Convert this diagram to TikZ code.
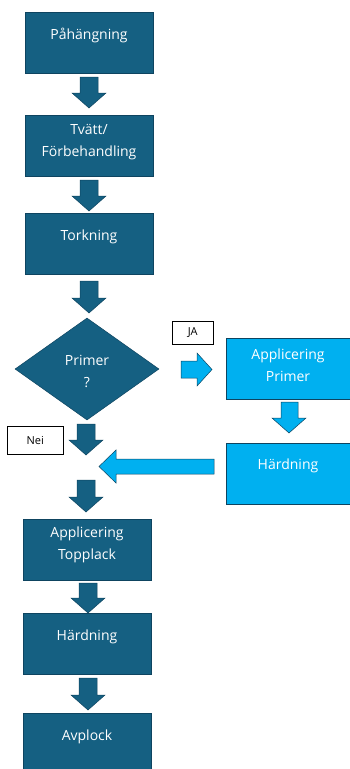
\documentclass[tikz,border=0pt]{standalone}
\usepackage{fontspec}
\setmainfont{Open Sans}
\usetikzlibrary{shapes.geometric}
\definecolor{darkb}{HTML}{156082}
\definecolor{darkedge}{HTML}{0E4460}
\definecolor{lightb}{HTML}{00B0F0}
\newcommand\blockdown[5]{% x center, y top, y tip, color, name
  \fill[#4,draw=darkedge,line width=0.5pt] (#1-9,#2) -- (#1+9,#2) -- (#1+9,#3-15) -- (#1+17,#3-15) -- (#1,#3) -- (#1-17,#3-15) -- (#1-9,#3-15) -- cycle;
  \coordinate (#5) at (#1,#3);}
\begin{document}
\begin{tikzpicture}[x=1pt,y=-1pt,
  box/.style={draw=darkedge,line width=0.6pt,fill=darkb,minimum width=128pt,minimum height=61pt,inner sep=0pt},
  lbox/.style={draw=darkedge,line width=0.6pt,fill=lightb,minimum width=124pt,minimum height=61pt,inner sep=0pt},
  txt/.style={text=white,font=\fontsize{14}{22}\selectfont,align=center,inner sep=0pt},
  tag/.style={draw=black,line width=0.5pt,fill=white,font=\fontsize{11}{13}\selectfont,inner sep=0pt}]
\useasboundingbox (0,0) rectangle (350,769);
% main column boxes
\node[box,anchor=north west] (b1) at (25,12) {};
\node[txt] (t1) at (89,35) {Påhängning};
\node[box,anchor=north west] (b2) at (25,115) {};
\node[txt] (t2) at (89,142) {Tvätt/\\Förbehandling};
\node[box,anchor=north west] (b3) at (25,213) {};
\node[txt] (t3) at (89,237) {Torkning};
% diamond
\node[draw=darkedge,line width=0.5pt,fill=darkb,diamond,minimum width=144pt,minimum height=102pt,inner sep=0pt] (d) at (87,369) {};
\node[txt] (td) at (87,371) {Primer\\?};
% arrows main
\blockdown{89}{77}{108}{darkb}{a1}
\blockdown{89}{180}{211}{darkb}{a2}
\blockdown{89}{281}{313}{darkb}{a3}
\blockdown{86}{424}{455}{darkb}{a4}
\blockdown{86}{480}{512}{darkb}{a5}
\blockdown{88}{583}{613}{darkb}{a6}
\blockdown{88}{678}{710}{darkb}{a7}
% lower boxes
\node[box,anchor=north west] (b4) at (23,519) {};
\node[txt] (t4) at (87,545) {Applicering\\Topplack};
\node[box,anchor=north west] (b5) at (23,613) {};
\node[txt] (t5) at (87,637) {Härdning};
\node[box,anchor=north west] (b6) at (23,713) {};
\node[txt] (t6) at (87,737) {Avplock};
% right branch
\node[lbox,anchor=north west] (r1) at (226,338) {};
\node[txt] (tr1) at (288,365) {Applicering\\Primer};
\node[lbox,anchor=north west] (r2) at (226,443) {};
\node[txt] (tr2) at (288,466) {Härdning};
% JA arrow right
\fill[lightb,draw=darkedge,line width=0.5pt] (181,361) -- (197,361) -- (197,353) -- (212,369.5) -- (197,386) -- (197,378) -- (181,378) -- cycle;
% light down arrow
\fill[lightb,draw=darkedge,line width=0.5pt] (281,402) -- (298,402) -- (298,418) -- (306,418) -- (289,433) -- (272,418) -- (281,418) -- cycle;
% left arrow
\fill[lightb,draw=darkedge,line width=0.5pt] (214,459) -- (116,459) -- (116,450) -- (99,466.5) -- (116,483) -- (116,474) -- (214,474) -- cycle;
% tags
\node[tag,minimum width=41pt,minimum height=23pt,anchor=north west] (ja) at (172,321) {JA};
\node[tag,minimum width=56pt,minimum height=28pt,anchor=north west] (nei) at (7,426) {Nei};
\end{tikzpicture}
\end{document}
